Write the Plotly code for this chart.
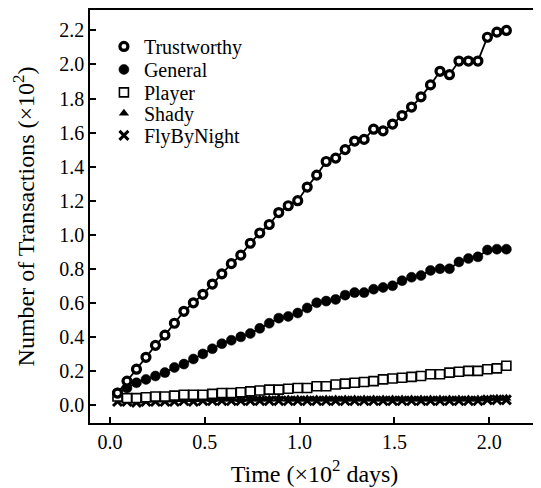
import plotly.graph_objects as go

time_days = [0.04, 0.09, 0.14, 0.19, 0.24, 0.29, 0.34, 0.39, 0.44, 0.49,
             0.54, 0.59, 0.64, 0.69, 0.74, 0.79, 0.84, 0.89, 0.94, 0.99,
             1.04, 1.09, 1.14, 1.19, 1.24, 1.29, 1.34, 1.39, 1.44, 1.49,
             1.54, 1.59, 1.64, 1.69, 1.74, 1.79, 1.84, 1.89, 1.94, 1.99,
             2.04, 2.09]

trustworthy = [0.07, 0.14, 0.21, 0.28, 0.35, 0.41, 0.48, 0.55, 0.60, 0.65,
               0.71, 0.77, 0.83, 0.88, 0.95, 1.01, 1.06, 1.13, 1.17, 1.20,
               1.28, 1.35, 1.43, 1.45, 1.50, 1.55, 1.56, 1.62, 1.61, 1.65,
               1.70, 1.75, 1.81, 1.88, 1.96, 1.94, 2.02, 2.02, 2.02, 2.16,
               2.19, 2.20]

general = [0.07, 0.10, 0.13, 0.15, 0.17, 0.19, 0.22, 0.24, 0.27, 0.30,
           0.33, 0.36, 0.38, 0.40, 0.42, 0.45, 0.48, 0.51, 0.52, 0.54,
           0.57, 0.60, 0.61, 0.62, 0.645, 0.66, 0.66, 0.68, 0.69, 0.70,
           0.73, 0.75, 0.76, 0.79, 0.80, 0.80, 0.84, 0.86, 0.87, 0.91,
           0.915, 0.915]

player = [0.05, 0.04, 0.04, 0.045, 0.05, 0.05, 0.055, 0.06, 0.06, 0.06,
          0.065, 0.07, 0.07, 0.075, 0.08, 0.085, 0.09, 0.09, 0.095, 0.10,
          0.10, 0.11, 0.11, 0.12, 0.125, 0.13, 0.135, 0.14, 0.15, 0.155,
          0.16, 0.165, 0.17, 0.18, 0.18, 0.19, 0.195, 0.20, 0.20, 0.21,
          0.215, 0.23]

shady = [0.04, 0.03, 0.03, 0.03, 0.035, 0.03, 0.035, 0.03, 0.035, 0.035,
         0.03, 0.035, 0.035, 0.03, 0.035, 0.035, 0.035, 0.04, 0.035, 0.035,
         0.035, 0.035, 0.035, 0.035, 0.035, 0.035, 0.035, 0.035, 0.035, 0.035,
         0.035, 0.035, 0.035, 0.035, 0.035, 0.035, 0.035, 0.035, 0.035, 0.035,
         0.04, 0.04]

flybynight = [0.02, 0.02, 0.015, 0.02, 0.02, 0.02, 0.02, 0.025, 0.02, 0.025,
              0.025, 0.025, 0.025, 0.025, 0.025, 0.025, 0.025, 0.025, 0.025, 0.025,
              0.025, 0.025, 0.025, 0.025, 0.025, 0.025, 0.025, 0.025, 0.025, 0.025,
              0.025, 0.025, 0.025, 0.025, 0.025, 0.025, 0.025, 0.025, 0.025, 0.03,
              0.03, 0.03]

x_ticks = [0.0, 0.5, 1.0, 1.5, 2.0]
y_ticks = [0.0, 0.2, 0.4, 0.6, 0.8, 1.0, 1.2, 1.4, 1.6, 1.8, 2.0, 2.2]

series = [
    ("Trustworthy", trustworthy, dict(symbol="circle", size=8, color="white", line=dict(color="black", width=3.2))),
    ("General", general, dict(symbol="circle", size=10, color="black", line=dict(color="black", width=0.5))),
    ("Player", player, dict(symbol="square", size=9, color="white", line=dict(color="black", width=1.6))),
    ("Shady", shady, dict(symbol="triangle-up", size=9, color="black", line=dict(color="black", width=0))),
    ("FlyByNight", flybynight, dict(symbol="x-thin", size=9, color="black", line=dict(color="black", width=3))),
]

FONT = "Liberation Serif, Times New Roman, serif"

# page body has an 8px margin: compensate so the plot area lands at
# x 90..541, y 9.5..423 in the 541x488 window
fig = go.Figure()
for name, vals, mk in reversed(series):
    fig.add_trace(go.Scatter(x=time_days, y=vals, mode="lines+markers", name=name,
                             line=dict(color="black", width=1.8), marker=mk,
                             showlegend=False))

legend_rows_px = [46, 69, 92, 113, 135]
plot_top, plot_bot = 9.5, 423.0
legends = {}
for i, ((name, vals, mk), py) in enumerate(zip(series, legend_rows_px)):
    key = "legend" if i == 0 else f"legend{i + 1}"
    fig.add_trace(go.Scatter(x=[None], y=[None], mode="markers", name=name,
                             marker=mk, showlegend=True, legend=key))
    legends[key] = dict(x=0.031, y=(plot_bot - py) / (plot_bot - plot_top),
                        xanchor="left", yanchor="middle",
                        bgcolor="rgba(0,0,0,0)",
                        font=dict(size=20, family=FONT, color="black"))

fig.update_layout(
    width=533, height=480,
    margin=dict(l=82, r=0, t=2, b=65),
    paper_bgcolor="white", plot_bgcolor="white",
    font=dict(family=FONT, size=20, color="black"),
    xaxis=dict(range=[-0.105, 2.262], tickvals=x_ticks,
               ticktext=[f"{v:.1f}" for v in x_ticks],
               ticks="inside", ticklen=6, tickwidth=1.5, tickcolor="black",
               showline=True, linecolor="black", linewidth=1.5, mirror=True,
               showgrid=False, zeroline=False,
               title=dict(text="Time (×10<sup>2</sup> days)", standoff=13)),
    yaxis=dict(range=[-0.106, 2.32], tickvals=y_ticks,
               ticktext=[f"{v:.1f}" for v in y_ticks],
               ticks="inside", ticklen=6, tickwidth=1.5, tickcolor="black",
               showline=True, linecolor="black", linewidth=1.5, mirror=True,
               showgrid=False, zeroline=False,
               title=dict(text="Number of Transactions (×10<sup>2</sup>)", standoff=18)),
    **legends,
)

fig.write_html("out.html")
